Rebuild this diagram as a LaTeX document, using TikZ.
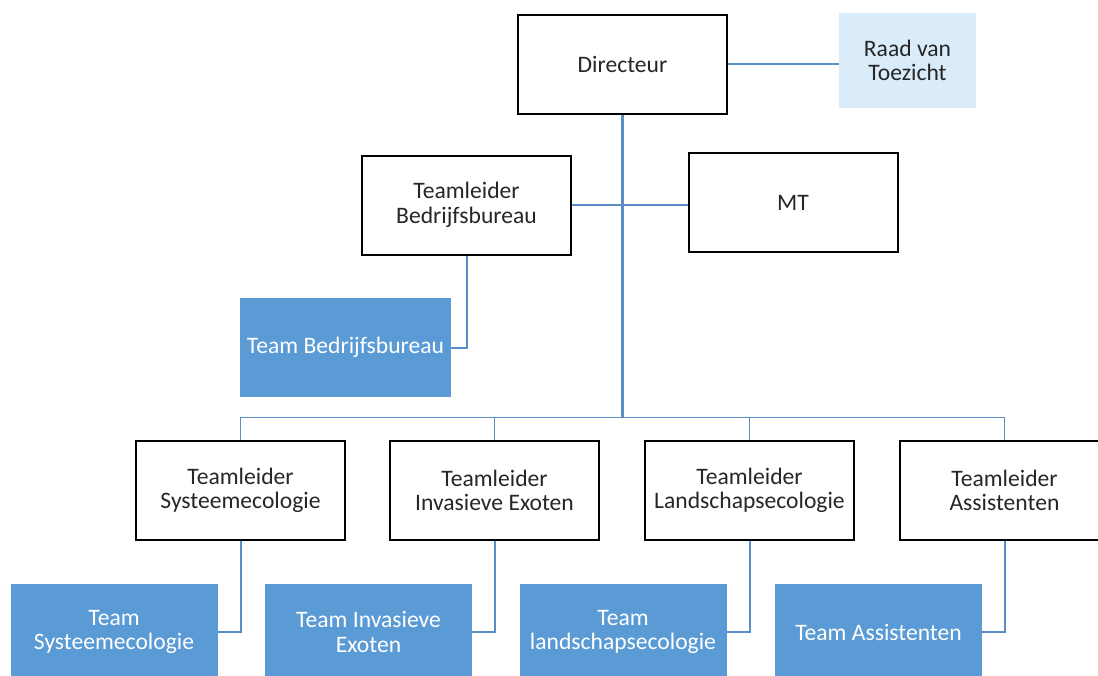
\documentclass[tikz,border=0pt]{standalone}
\usepackage{fontspec}
\setmainfont{Carlito}
\definecolor{orgblue}{HTML}{5B9BD5}
\definecolor{orgline}{HTML}{5B8EC6}
\definecolor{orglight}{HTML}{DAEBFA}
\tikzset{
  lead/.style={draw=black, line width=1pt, fill=white, minimum width=104.5pt, minimum height=49.5pt,
    align=center, text=black!85, font=\fontsize{11.8}{12.2}\selectfont},
  team/.style={fill=orgblue, minimum width=103.5pt, minimum height=48pt,
    align=center, text=white, font=\fontsize{11.8}{12.2}\selectfont},
  conn/.style={draw=orgline, line width=1pt},
}
\begin{document}
\begin{tikzpicture}[x=0.5pt,y=-0.5pt]
\useasboundingbox (0,0) rectangle (1098,675);

% top
\node[lead] (dir) at (622.5,64) {Directeur};
\node[team, fill=orglight, text=black!85, minimum width=68.5pt, minimum height=47.5pt] (raad) at (907.5,60.5) {Raad van\\Toezicht};
\node[lead] (tlbb) at (466.5,205) {Teamleider\\Bedrijfsbureau};
\node[lead] (mt) at (793,202.5) {MT};
\node[team, minimum width=104.5pt, minimum height=49.5pt] (teambb) at (345.5,347.5) {Team Bedrijfsbureau};
\coordinate (bus) at (622.5,417.5);

\draw[conn] (dir.east) -- (dir.east -| raad.west);
\draw[conn, line width=1.5pt] (dir.south) -- (bus);
\draw[conn] (tlbb.east) -- (tlbb.east -| mt.west);
\draw[conn] (tlbb.south) |- (teambb.east);

% bottom row
\foreach \i/\x/\tx/\lname/\tname in {
  1/240.5/114/{Teamleider\\Systeemecologie}/{Team\\Systeemecologie},
  2/494.5/368.5/{Teamleider\\Invasieve Exoten}/{Team Invasieve\\Exoten},
  3/749.5/623/{Teamleider\\Landschapsecologie}/{Team\\landschapsecologie},
  4/1004.5/878.5/{Teamleider\\Assistenten}/{Team Assistenten}}{
  \node[lead] (tl\i) at (\x,490.5) {\lname};
  \node[team] (team\i) at (\tx,632) {\tname};
  \draw[conn, line width=0.8pt] (bus) -| (tl\i.north);
  \draw[conn] (tl\i.south) |- (team\i.east);
}

\end{tikzpicture}
\end{document}
